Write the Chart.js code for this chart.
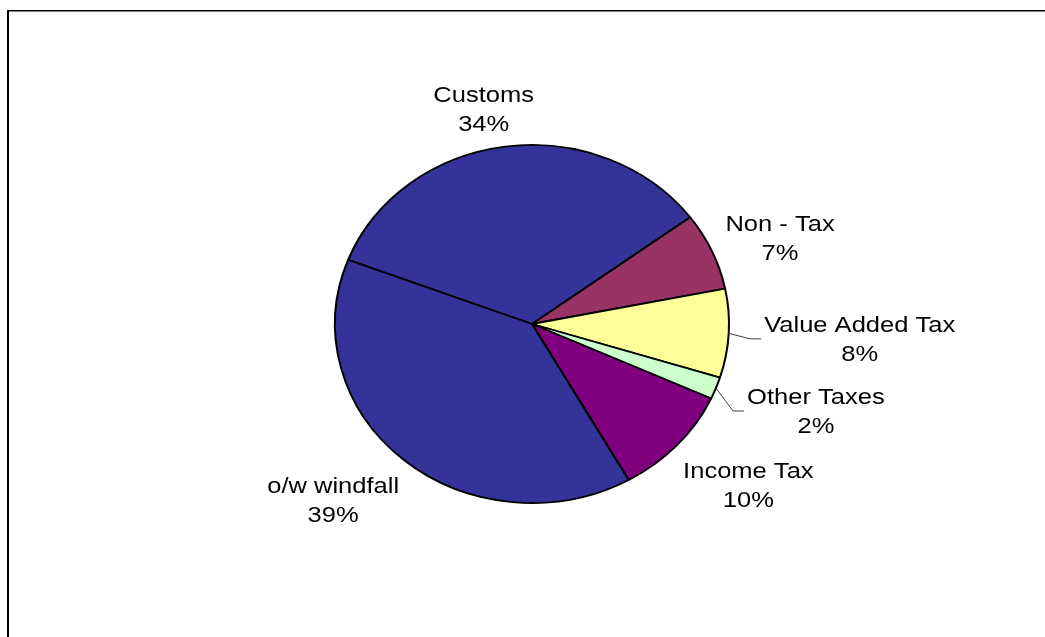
<!DOCTYPE html>
<html>
<head>
<meta charset="utf-8">
<title>Revenue composition</title>
<script src="https://cdn.jsdelivr.net/npm/chart.js@4.4.1/dist/chart.umd.min.js"></script>
<style>
  html, body { margin: 0; padding: 0; background: #fff; }
  #wrap { width: 1045px; height: 637px; }
</style>
</head>
<body>
<div id="wrap"><canvas id="pie" width="1045" height="637"></canvas></div>
<script>
// revenue shares, in percent, clockwise from Customs
const categories = ["Customs", "Non - Tax", "Value Added Tax", "Other Taxes", "Income Tax", "o/w windfall"];
const shares = [34, 7, 8, 2, 10, 39];
const sliceColors = ["#333399", "#993366", "#FFFF99", "#CCFFCC", "#800080", "#333399"];
// labels pulled away from their slice get a leader line
const leaderLabels = ["Value Added Tax", "Other Taxes"];

const SQUASH = 179 / 197;     // pie is drawn a bit flatter than a circle
const TEXT_STRETCH = 1.16;    // labels are slightly wide
const FONT = '22px "Liberation Sans", Arial, sans-serif';

// hand tweaks to the automatic label spot (px)
const labelNudge = {
  "Customs": [-11, 4],
  "Non - Tax": [-7, 1],
  "Value Added Tax": [8, -2],
  "Other Taxes": [10, 1],
  "Income Tax": [3, 3],
  "o/w windfall": [-9, 0]
};

function wideText(ctx, str, x, y) {
  ctx.save();
  ctx.translate(x, y);
  ctx.scale(TEXT_STRETCH, 1);
  ctx.fillText(str, 0, 0);
  ctx.restore();
}

const pieLabels = {
  id: "pieLabels",
  beforeDraw(chart) {
    // frame on the left and top
    const ctx = chart.ctx;
    ctx.save();
    ctx.fillStyle = "#000";
    ctx.fillRect(7, 10, 2, chart.height - 10);
    ctx.fillRect(7, 10, chart.width - 7, 1.5);
    ctx.restore();
  },
  beforeDatasetsDraw(chart) {
    const arc = chart.getDatasetMeta(0).data[0];
    const ctx = chart.ctx;
    ctx.save();
    ctx.translate(arc.x, arc.y);
    ctx.scale(1, SQUASH);
    ctx.translate(-arc.x, -arc.y);
  },
  afterDatasetsDraw(chart) {
    const ctx = chart.ctx;
    ctx.restore();
    const meta = chart.getDatasetMeta(0);
    const total = shares.reduce((a, b) => a + b, 0);
    ctx.save();
    ctx.font = FONT;
    ctx.textAlign = "center";
    ctx.textBaseline = "alphabetic";
    meta.data.forEach((arc, i) => {
      const mid = (arc.startAngle + arc.endAngle) / 2;
      const rx = arc.outerRadius, ry = arc.outerRadius * SQUASH;
      const c = Math.cos(mid), s = Math.sin(mid);
      const name = categories[i];
      const pct = Math.round(shares[i] / total * 100) + "%";
      const halfW = Math.max(ctx.measureText(name).width, ctx.measureText(pct).width) * TEXT_STRETCH / 2;
      const halfH = 22;
      const nudge = labelNudge[name] || [0, 0];
      const bx = arc.x + 1.14 * rx * c + halfW * c + nudge[0];
      const by = arc.y + 1.14 * ry * s + halfH * s + 5 + nudge[1];

      if (leaderLabels.includes(name)) {
        const left = bx - halfW;
        ctx.beginPath();
        ctx.moveTo(arc.x + rx * c, arc.y + ry * s);
        ctx.lineTo(left - 14, by);
        ctx.lineTo(left - 3, by);
        ctx.strokeStyle = "#404040";
        ctx.lineWidth = 1;
        ctx.stroke();
      }
      ctx.fillStyle = "#000";
      wideText(ctx, name, bx, by - 7);
      wideText(ctx, pct, bx, by + 22);
    });
    ctx.restore();
  }
};

new Chart(document.getElementById("pie"), {
  type: "pie",
  data: {
    labels: categories,
    datasets: [{
      data: shares,
      backgroundColor: sliceColors,
      borderColor: "#000",
      borderWidth: 2
    }]
  },
  options: {
    responsive: false,
    animation: false,
    events: [],
    rotation: -69,
    radius: 197,
    layout: { padding: { left: 332, right: 313, top: 124, bottom: 113 } },
    plugins: {
      legend: { display: false },
      tooltip: { enabled: false }
    }
  },
  plugins: [pieLabels]
});
</script>
</body>
</html>
